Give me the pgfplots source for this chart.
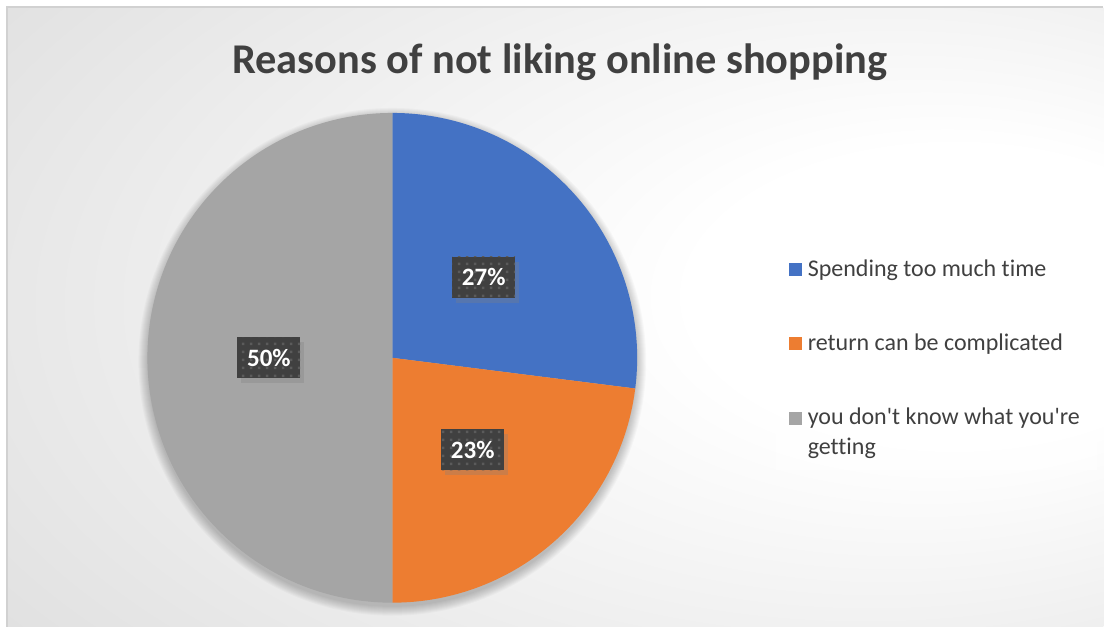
\documentclass[border=0pt]{standalone}
\usepackage{pgfplots}
\pgfplotsset{compat=1.18}
\usepackage{pgfplotstable}
\usepackage{fontspec}
\setmainfont{Carlito}[Ligatures={NoCommon}]
\usetikzlibrary{shadows,patterns.meta}
\definecolor{sBlue}{HTML}{4472C4}
\definecolor{sOrange}{HTML}{ED7D31}
\definecolor{sGray}{HTML}{A5A5A5}
\definecolor{txt}{HTML}{404040}
\definecolor{lbl}{HTML}{404040}
\pgfdeclareradialshading{bgshade}{\pgfpoint{22bp}{2bp}}{color(0bp)=(white);color(12bp)=(white);color(72bp)=(black!23)}
\tikzdeclarepattern{name=lbldots,type=uncolored,bounding box={(0,0) and (8pt,8pt)},tile size={(8pt,8pt)},code={\fill (3pt,3pt) rectangle (5.5pt,5.5pt);}}

\pgfplotstableread{
share
27
23
50
}\piedata

\begin{document}
\begin{tikzpicture}
\pgfplotstablegetelem{0}{share}\of\piedata \global\let\vA\pgfplotsretval
\pgfplotstablegetelem{1}{share}\of\piedata \global\let\vB\pgfplotsretval
\pgfplotstablegetelem{2}{share}\of\piedata \global\let\vC\pgfplotsretval
\pgfmathsetmacro\aA{90-3.6*\vA}\global\let\aA\aA
\pgfmathsetmacro\aB{\aA-3.6*\vB}\global\let\aB\aB
\pgfmathsetmacro\aC{\aB-3.6*\vC}\global\let\aC\aC
\begin{axis}[scale only axis, width=1104pt, height=627pt, xmin=0, xmax=1104, ymin=0, ymax=627, y dir=reverse, hide axis, clip=false]
\fill[white] (axis cs:0,0) rectangle (axis cs:1104,627);
\shade[shading=bgshade] (axis cs:7,7) rectangle (axis cs:1104,627);
\draw[black!18, line width=1.2pt] (axis cs:7,627) -- (axis cs:7,7) -- (axis cs:1104,7);
% pie shadow
\pgfplotsinvokeforeach{0,...,9}{
  \fill[black, opacity=0.025] (axis cs:392.5,362) circle[radius={245pt+#1pt}];
}
% pie
\fill[sBlue] (axis cs:392.5,358) -- ++(90:245pt) arc[start angle=90,end angle=\aA,radius=245pt] -- cycle;
\fill[sOrange] (axis cs:392.5,358) -- ++(\aA:245pt) arc[start angle=\aA,end angle=\aB,radius=245pt] -- cycle;
\fill[sGray] (axis cs:392.5,358) -- ++(\aB:245pt) arc[start angle=\aB,end angle=\aC,radius=245pt] -- cycle;
% labels
\tikzset{lblbox/.style={fill=lbl, postaction={pattern={lbldots}, pattern color=white!14!lbl}, drop shadow={shadow xshift=4pt, shadow yshift=-5pt, opacity=0.3}, minimum width=63pt, minimum height=41pt, inner sep=0pt, text=white, font=\bfseries\fontsize{25}{25}\selectfont}}
\node[lblbox] at (axis cs:484,277.5) {\vA\%};
\node[lblbox] at (axis cs:473,450) {\vB\%};
\node[lblbox] at (axis cs:269,358) {\vC\%};
% title
\node[anchor=base, text=txt, font=\bfseries\fontsize{42.4}{42.4}\selectfont] at (axis cs:560,74) {Reasons of not liking online shopping};
% legend
\fill[white, opacity=0.6] (axis cs:776,247) rectangle (axis cs:1098,470);
\fill[sBlue] (axis cs:789,263.5) rectangle (axis cs:802,276.5);
\fill[sOrange] (axis cs:789,337.5) rectangle (axis cs:802,350.5);
\fill[sGray] (axis cs:789,412) rectangle (axis cs:802,425);
\tikzset{legtxt/.style={anchor=base west, inner sep=0pt, text=txt, font=\fontsize{24}{24}\selectfont}}
\node[legtxt] at (axis cs:808,277) {Spending too much time};
\node[legtxt] at (axis cs:808,350.5) {return can be complicated};
\node[legtxt] at (axis cs:808,425) {you don\textquotesingle t know what you\textquotesingle re};
\node[legtxt] at (axis cs:808,455) {getting};
\end{axis}
\end{tikzpicture}
\end{document}
